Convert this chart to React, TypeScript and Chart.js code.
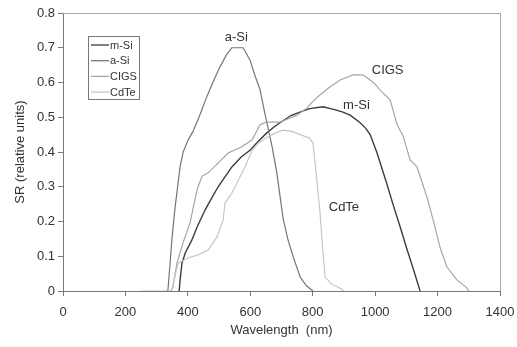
import React, { useEffect, useRef } from "react";
import { Chart, registerables } from "chart.js";

Chart.register(...registerables);

const xTicks = [0, 200, 400, 600, 800, 1000, 1200, 1400];
const yTicks = [0, 0.1, 0.2, 0.3, 0.4, 0.5, 0.6, 0.7, 0.8];

const mSiWl = [372, 375, 381, 392, 413, 430, 455, 475, 497, 520, 541, 570, 599, 625, 653, 680, 705, 730, 759, 790, 833, 870, 897, 920, 951, 970, 984, 1005, 1037, 1057, 1080, 1102, 1120, 1144];
const mSiSR = [0, 0.03, 0.08, 0.11, 0.147, 0.185, 0.233, 0.265, 0.30, 0.33, 0.357, 0.385, 0.405, 0.43, 0.455, 0.475, 0.49, 0.505, 0.515, 0.525, 0.53, 0.522, 0.515, 0.506, 0.485, 0.468, 0.45, 0.40, 0.31, 0.25, 0.185, 0.12, 0.07, 0];

const aSiWl = [330, 336, 343, 349, 359, 375, 385, 401, 417, 440, 461, 480, 503, 524, 541, 560, 577, 599, 615, 631, 647, 670, 685, 705, 720, 737, 760, 780, 801];
const aSiSR = [0, 0, 0.08, 0.15, 0.24, 0.357, 0.40, 0.435, 0.46, 0.51, 0.56, 0.60, 0.645, 0.68, 0.70, 0.70, 0.70, 0.665, 0.62, 0.58, 0.51, 0.415, 0.34, 0.21, 0.15, 0.10, 0.04, 0.015, 0];

const cigsWl = [345, 352, 365, 385, 407, 429, 445, 465, 497, 529, 573, 606, 631, 650, 663, 695, 720, 750, 782, 800, 823, 855, 888, 929, 961, 984, 1000, 1016, 1048, 1070, 1090, 1112, 1134, 1166, 1186, 1208, 1230, 1262, 1294, 1300];
const cigsSR = [0, 0.01, 0.08, 0.14, 0.196, 0.29, 0.33, 0.34, 0.368, 0.397, 0.415, 0.435, 0.478, 0.486, 0.486, 0.486, 0.495, 0.506, 0.527, 0.545, 0.564, 0.587, 0.607, 0.622, 0.622, 0.607, 0.595, 0.578, 0.55, 0.48, 0.445, 0.377, 0.357, 0.27, 0.204, 0.125, 0.069, 0.032, 0.009, 0];

const cdteWl = [250, 348, 358, 369, 400, 433, 465, 493, 513, 519, 541, 557, 583, 606, 625, 650, 680, 705, 730, 760, 790, 801, 812, 823, 832, 840, 860, 888, 900];
const cdteSR = [0, 0, 0.04, 0.08, 0.095, 0.104, 0.118, 0.155, 0.204, 0.253, 0.282, 0.31, 0.357, 0.405, 0.425, 0.44, 0.455, 0.463, 0.46, 0.45, 0.44, 0.425, 0.33, 0.23, 0.12, 0.04, 0.02, 0.008, 0];

const seriesNames = ["m-Si", "a-Si", "CIGS", "CdTe"];
const seriesColors = ["#3c3c3c", "#767676", "#a6a6a6", "#c6c6c6"];

const curveLabels = [
  { text: "a-Si", x: 555, y: 0.73 },
  { text: "CIGS", x: 1040, y: 0.636 },
  { text: "m-Si", x: 940, y: 0.535 },
  { text: "CdTe", x: 900, y: 0.24 },
];

const FONT = '"Liberation Sans", Arial, sans-serif';

function pts(xs: number[], ys: number[]) {
  return xs.map((x, i) => ({ x, y: ys[i] }));
}

const overlayPlugin = {
  id: "overlay",
  afterDraw(chart: any) {
    const { ctx, chartArea, scales } = chart;
    ctx.save();
    ctx.strokeStyle = "#a8a8a8";
    ctx.lineWidth = 1;
    ctx.beginPath();
    ctx.moveTo(chartArea.left, chartArea.top + 0.5);
    ctx.lineTo(chartArea.right + 0.5, chartArea.top + 0.5);
    ctx.lineTo(chartArea.right + 0.5, chartArea.bottom);
    ctx.stroke();

    ctx.fillStyle = "#333";
    ctx.font = `13px ${FONT}`;
    ctx.textAlign = "center";
    ctx.textBaseline = "middle";
    curveLabels.forEach((l) => {
      ctx.fillText(l.text, scales.x.getPixelForValue(l.x), scales.y.getPixelForValue(l.y));
    });

    const bx = 88, by = 36, bw = 51, bh = 63;
    ctx.fillStyle = "#fff";
    ctx.fillRect(bx, by, bw, bh);
    ctx.strokeStyle = "#777";
    ctx.strokeRect(bx + 0.5, by + 0.5, bw, bh);
    ctx.font = `11px ${FONT}`;
    ctx.textAlign = "left";
    seriesNames.forEach((n, i) => {
      const yy = 45 + i * 15.7;
      ctx.strokeStyle = seriesColors[i];
      ctx.lineWidth = 1.3;
      ctx.beginPath();
      ctx.moveTo(91, yy);
      ctx.lineTo(109, yy);
      ctx.stroke();
      ctx.fillStyle = "#333";
      ctx.fillText(n, 110, yy + 0.5);
    });
    ctx.restore();
  },
};

export default function App() {
  const ref = useRef<HTMLCanvasElement>(null);
  useEffect(() => {
    document.body.style.margin = "0";
    const xs = [mSiWl, aSiWl, cigsWl, cdteWl];
    const ys = [mSiSR, aSiSR, cigsSR, cdteSR];
    const order = [3, 2, 1, 0];
    const chart = new Chart(ref.current!, {
      type: "line",
      data: {
        datasets: order.map((i) => ({
          label: seriesNames[i],
          data: pts(xs[i], ys[i]),
          borderColor: seriesColors[i],
          borderWidth: i === 0 ? 1.4 : 1.2,
          pointRadius: 0,
          tension: 0,
          fill: false,
        })),
      },
      options: {
        responsive: false,
        animation: false,
        layout: { padding: { top: 13, right: 17, left: 0, bottom: 0 } },
        plugins: { legend: { display: false }, tooltip: { enabled: false } },
        scales: {
          x: {
            type: "linear",
            min: 0,
            max: 1400,
            afterBuildTicks: (s: any) => {
              s.ticks = xTicks.map((v) => ({ value: v }));
            },
            afterFit: (s: any) => {
              s.height = 56;
              s.paddingRight = 17;
              s.paddingLeft = 0;
            },
            ticks: { color: "#333", font: { size: 13, family: FONT }, padding: 9, maxRotation: 0, callback: (v: any) => String(v) },
            grid: { drawOnChartArea: false, tickLength: 5, color: "#777" },
            border: { color: "#777" },
            title: { display: true, text: "Wavelength  (nm)", color: "#333", font: { size: 13, family: FONT }, padding: { top: 0, bottom: 9 } },
          },
          y: {
            type: "linear",
            min: 0,
            max: 0.8,
            afterBuildTicks: (s: any) => {
              s.ticks = yTicks.map((v) => ({ value: v }));
            },
            afterFit: (s: any) => {
              s.width = 63;
            },
            ticks: { color: "#333", font: { size: 13, family: FONT }, padding: 3, callback: (v: any) => String(Math.round(v * 10) / 10) },
            grid: { drawOnChartArea: false, tickLength: 5, color: "#777" },
            border: { color: "#777" },
            title: { display: true, text: "SR (relative units)", color: "#333", font: { size: 13, family: FONT }, padding: { top: 13, bottom: 0 } },
          },
        },
      },
      plugins: [overlayPlugin],
    });
    return () => chart.destroy();
  }, []);
  return (
    <div style={{ width: 517, height: 347 }}>
      <canvas ref={ref} width={517} height={347} />
    </div>
  );
}
